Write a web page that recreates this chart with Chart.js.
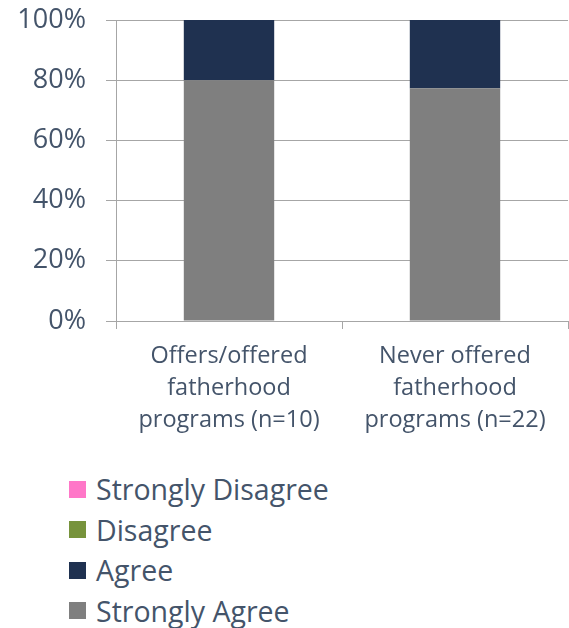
<!DOCTYPE html>
<html>
<head>
<meta charset="utf-8">
<script src="https://cdn.jsdelivr.net/npm/chart.js@4.4.1/dist/chart.umd.min.js"></script>
<style>
  html, body { margin: 0; padding: 0; background: #fff; }
  #wrap { position: relative; width: 569px; height: 628px; }
  #chart { position: absolute; left: 0; top: 0; }
  #legend { position: absolute; left: 69px; top: 469px; font-family: "Open Sans", sans-serif; font-size: 28.5px; color: #44546A; }
  #legend .item { display: flex; align-items: center; height: 40.5px; }
  #legend .box { width: 17px; height: 17px; margin-right: 10px; }
</style>
</head>
<body>
<div id="wrap">
  <canvas id="chart" width="569" height="450"></canvas>
  <div id="legend"></div>
</div>
<script>
const categories = [
    ["Offers/offered", "fatherhood", "programs (n=10)"],
    ["Never offered", "fatherhood", "programs (n=22)"],
];
const stronglyAgree = [80, 77.3];
const agree = [20, 22.7];
const disagree = [0, 0];
const stronglyDisagree = [0, 0];
const yTicks = [0, 20, 40, 60, 80, 100];

const textColor = "#44546A";
const lineColor = "#A6A6A6";

const chart = new Chart(document.getElementById("chart").getContext("2d"), {
    type: "bar",
    data: {
        labels: categories,
        datasets: [
            { label: "Strongly Agree", data: stronglyAgree, backgroundColor: "#7F7F7F" },
            { label: "Agree", data: agree, backgroundColor: "#1F3150" },
            { label: "Disagree", data: disagree, backgroundColor: "#77933C" },
            { label: "Strongly Disagree", data: stronglyDisagree, backgroundColor: "#FF77C8" },
        ],
    },
    options: {
        responsive: false,
        animation: false,
        layout: { padding: { top: 20, right: 1, left: 0, bottom: 0 } },
        datasets: {
            bar: { categoryPercentage: 1, barPercentage: 0.4 },
        },
        scales: {
            x: {
                stacked: true,
                afterFit: (scale) => {
                    scale.height = 450 - 321;
                    scale.paddingLeft = 0;
                    scale.paddingRight = 0;
                },
                border: { color: lineColor },
                grid: { drawOnChartArea: false, tickLength: 8, color: lineColor, offset: true },
                ticks: {
                    color: textColor,
                    padding: 11,
                    font: { family: "Open Sans", size: 23.5, lineHeight: 1.36 },
                },
            },
            y: {
                stacked: true,
                min: 0,
                max: 100,
                afterFit: (scale) => {
                    scale.width = 116;
                    scale.paddingTop = 0;
                    scale.paddingBottom = 0;
                },
                afterBuildTicks: (scale) => { scale.ticks = yTicks.map((v) => ({ value: v })); },
                border: { color: lineColor },
                grid: { color: lineColor, tickLength: 10 },
                ticks: {
                    color: textColor,
                    padding: 20,
                    font: { family: "Open Sans", size: 27 },
                    callback: (v) => v + "%",
                },
            },
        },
        plugins: {
            legend: { display: false },
            tooltip: { enabled: false },
        },
    },
});

// legend listed top to bottom in reverse stacking order
const legend = document.getElementById("legend");
chart.data.datasets.slice().reverse().forEach((ds) => {
    const item = document.createElement("div");
    item.className = "item";
    const box = document.createElement("span");
    box.className = "box";
    box.style.background = ds.backgroundColor;
    const text = document.createElement("span");
    text.textContent = ds.label;
    item.appendChild(box);
    item.appendChild(text);
    legend.appendChild(item);
});
</script>
</body>
</html>
